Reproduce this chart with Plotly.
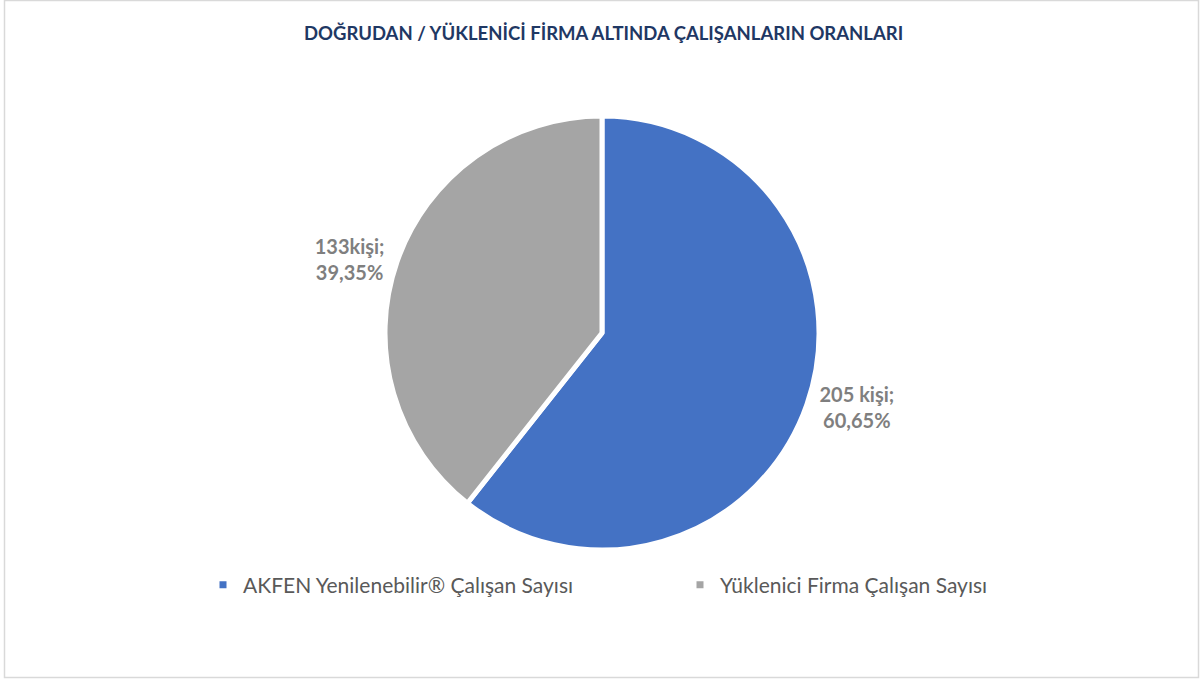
import plotly.graph_objects as go

# Employee counts by employer type
categories = ["AKFEN Yenilenebilir® Çalışan Sayısı", "Yüklenici Firma Çalışan Sayısı"]
counts = [205, 133]
count_labels = ["205 kişi;", "133kişi;"]
shares = ["60,65%", "39,35%"]
colors = ["#4472C4", "#A5A5A5"]

W, H = 1200, 682
cx, cy, r = 602, 333, 217

text = [f"{c}<br>{s}" for c, s in zip(count_labels, shares)]

fig = go.Figure()
fig.add_trace(go.Pie(
    labels=categories,
    values=counts,
    text=text,
    texttemplate="%{text}",
    textposition="outside",
    textfont=dict(family="Lato", size=20, color="#7F7F7F", weight="bold"),
    marker=dict(colors=colors, line=dict(color="white", width=5)),
    sort=False,
    direction="clockwise",
    rotation=0,
    hole=0,
    domain=dict(x=[(cx - r - 150) / W, (cx + r + 150) / W],
                y=[1 - (cy + r) / H, 1 - (cy - r) / H]),
    showlegend=True,
))

fig.update_layout(
    width=W, height=H,
    margin=dict(l=0, r=0, t=0, b=0),
    paper_bgcolor="white",
    plot_bgcolor="white",
    title=dict(
        text="<b>DOĞRUDAN / YÜKLENİCİ FİRMA ALTINDA ÇALIŞANLARIN ORANLARI</b>",
        x=0.503, xanchor="center", y=1 - 34 / H, yanchor="middle",
        font=dict(family="Lato", size=18.5, color="#1F3864"),
    ),
    legend=dict(
        orientation="h",
        x=(243 - 40) / W, xanchor="left",
        y=1 - 585 / H, yanchor="middle",
        font=dict(family="Lato", size=21, color="#595959"),
        entrywidth=432, entrywidthmode="pixels",
        itemwidth=30,
    ),
    shapes=[dict(type="rect", xref="paper", yref="paper",
                 x0=4.5 / W, x1=1198.5 / W, y0=1 - 677.5 / H, y1=1 - 0.5 / H,
                 line=dict(color="#D9D9D9", width=1.5))],
)

fig.write_html("out.html")
